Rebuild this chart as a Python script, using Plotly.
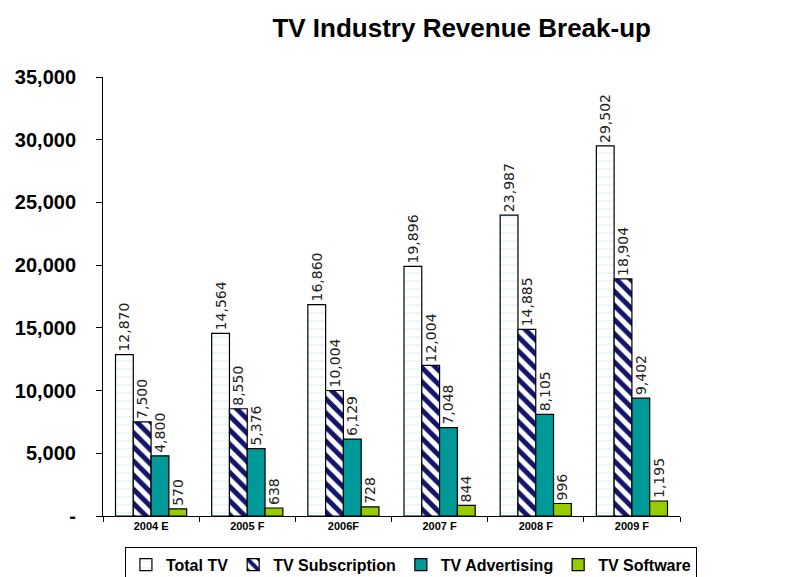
import plotly.graph_objects as go

categories = ["2004 E", "2005 F", "2006F", "2007 F", "2008 F", "2009 F"]
total_tv = [12870, 14564, 16860, 19896, 23987, 29502]
subscription = [7500, 8550, 10004, 12004, 14885, 18904]
advertising = [4800, 5376, 6129, 7048, 8105, 9402]
software = [570, 638, 728, 844, 996, 1195]

y_tickvals = [0, 5000, 10000, 15000, 20000, 25000, 30000, 35000]
y_ticktext = ["-", "5,000", "10,000", "15,000", "20,000", "25,000", "30,000", "35,000"]

def fmt(v):
    return f"{v:,}"

series = [
    ("Total TV", total_tv, dict(color="white", pattern=dict(shape="-", fgcolor="#BFE3F5", bgcolor="white", size=8, solidity=0.15))),
    ("TV Subscription", subscription, dict(color="white", pattern=dict(shape="\\", fgcolor="#14146B", bgcolor="white", fgopacity=1, size=10, solidity=0.5))),
    ("TV Advertising", advertising, dict(color="#009999")),
    ("TV Software", software, dict(color="#99CC00")),
]

fig = go.Figure()
for name, vals, mk in series:
    mk = dict(mk)
    mk["line"] = dict(color="black", width=1.2)
    fig.add_trace(go.Bar(
        name=name, x=categories, y=vals, marker=mk,
        text=[fmt(v) for v in vals], textposition="outside", textangle=-90,
        constraintext="none",
        textfont=dict(family="DejaVu Sans", size=14, color="#222222"),
        cliponaxis=False,
    ))

fig.update_layout(
    width=789, height=569,
    barmode="group", bargap=0.26, bargroupgap=0,
    paper_bgcolor="white", plot_bgcolor="white",
    margin=dict(l=95, r=117, t=69, b=61, autoexpand=False),
    title=dict(text="TV Industry Revenue Break-up", x=0.575, xanchor="center", y=0.965, yanchor="middle",
               font=dict(family="Arial", size=26, color="black", weight="bold")),
    font=dict(family="Arial", color="black"),
    legend=dict(orientation="h", x=0.038, xanchor="left", y=-0.07, yanchor="top",
                bordercolor="black", borderwidth=1, bgcolor="white",
                font=dict(family="Arial", size=16, color="black", weight="bold"),
                itemwidth=30, tracegroupgap=0),
    showlegend=True,
)
fig.update_yaxes(range=[0, 35000], tickvals=y_tickvals, ticktext=y_ticktext,
                 showline=True, linecolor="black", linewidth=1, ticks="outside", ticklen=6,
                 tickcolor="black", showgrid=False, zeroline=False, ticklabelstandoff=16,
                 tickfont=dict(family="Arial", size=20, color="black", weight="bold"))
fig.update_xaxes(showline=True, linecolor="black", linewidth=1, ticks="outside", ticklen=5,
                 tickcolor="black", tickson="boundaries", showgrid=False,
                 tickfont=dict(family="Arial", size=11, color="black", weight="bold"))

fig.write_html("out.html")
